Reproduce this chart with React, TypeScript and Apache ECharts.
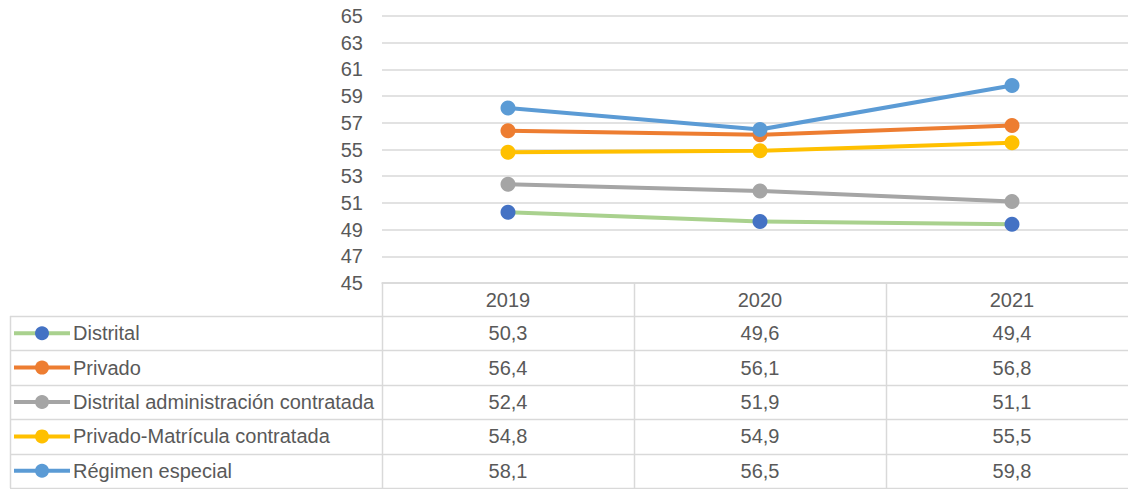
import React, { useEffect, useRef } from "react";
import * as echarts from "echarts";

const years = ["2019", "2020", "2021"];
const seriesNames = [
  "Distrital",
  "Privado",
  "Distrital administración contratada",
  "Privado-Matrícula contratada",
  "Régimen especial",
];
const distrital = [50.3, 49.6, 49.4];
const privado = [56.4, 56.1, 56.8];
const distritalAdmin = [52.4, 51.9, 51.1];
const privadoMatricula = [54.8, 54.9, 55.5];
const regimenEspecial = [58.1, 56.5, 59.8];
const lineColors = ["#A9D18E", "#ED7D31", "#A5A5A5", "#FFC000", "#5B9BD5"];
const markerColors = ["#4472C4", "#ED7D31", "#A5A5A5", "#FFC000", "#5B9BD5"];

const FONT = "'Liberation Sans', Arial, sans-serif";
const FS = 20;
const TXT = "#595959";
const GRIDC = "#D9D9D9";

export default function App() {
  const ref = useRef<HTMLDivElement>(null);
  useEffect(() => {
    if (!ref.current) return;
    const chart = echarts.init(ref.current, null, { renderer: "svg" });
    const values = [distrital, privado, distritalAdmin, privadoMatricula, regimenEspecial];
    const gridLeft = 382;
    const gridTop = 16;
    const gridW = 756;
    const gridH = 267;
    const catW = gridW / years.length;
    const axisY = gridTop + gridH;
    const rowH = 34.4;
    const headerBottom = 316;
    const tableLeft = 10;
    const tableRight = 1140;
    const tableBottom = headerBottom + rowH * seriesNames.length;

    const g: any[] = [];
    for (let i = 0; i <= seriesNames.length; i++) {
      const y = Math.round(headerBottom + i * rowH) + 0.5;
      g.push({
        type: "line",
        shape: { x1: tableLeft, y1: y, x2: tableRight, y2: y },
        style: { stroke: GRIDC, lineWidth: 1.5 },
      });
    }
    g.push({
      type: "line",
      shape: { x1: tableLeft + 0.5, y1: headerBottom, x2: tableLeft + 0.5, y2: tableBottom },
      style: { stroke: GRIDC, lineWidth: 1.5 },
    });
    for (let i = 0; i < years.length; i++) {
      const x = Math.round(gridLeft + i * catW) + 0.5;
      g.push({
        type: "line",
        shape: { x1: x, y1: axisY, x2: x, y2: tableBottom },
        style: { stroke: GRIDC, lineWidth: 1.5 },
      });
    }
    seriesNames.forEach((name, r) => {
      const cy = headerBottom + (r + 0.5) * rowH;
      g.push({
        type: "line",
        shape: { x1: 14, y1: cy, x2: 70, y2: cy },
        style: { stroke: lineColors[r], lineWidth: 4 },
      });
      g.push({
        type: "circle",
        shape: { cx: 42, cy, r: 7 },
        style: { fill: markerColors[r] },
      });
      g.push({
        type: "text",
        x: 73,
        y: cy,
        style: {
          text: name,
          fill: TXT,
          font: `${FS}px ${FONT}`,
          textVerticalAlign: "middle",
          textAlign: "left",
        },
      });
      values[r].forEach((v, c) => {
        g.push({
          type: "text",
          x: gridLeft + (c + 0.5) * catW,
          y: cy,
          style: {
            text: v.toFixed(1).replace(".", ","),
            fill: TXT,
            font: `${FS}px ${FONT}`,
            textVerticalAlign: "middle",
            textAlign: "center",
          },
        });
      });
    });

    chart.setOption({
      animation: false,
      grid: { left: gridLeft, top: gridTop, width: gridW, height: gridH },
      xAxis: {
        type: "category",
        data: years,
        boundaryGap: true,
        axisLine: { show: true, lineStyle: { color: GRIDC, width: 1.5 } },
        axisTick: { show: false },
        axisLabel: { color: TXT, fontSize: FS, fontFamily: FONT, margin: 7 },
      },
      yAxis: {
        type: "value",
        min: 45,
        max: 65,
        interval: 2,
        axisLine: { show: false },
        axisTick: { show: false },
        axisLabel: { color: TXT, fontSize: FS, fontFamily: FONT, margin: 19 },
        splitLine: { lineStyle: { color: GRIDC, width: 1.5 } },
      },
      series: seriesNames.map((name, i) => ({
        name,
        type: "line",
        data: values[i],
        symbol: "circle",
        symbolSize: 15,
        lineStyle: { color: lineColors[i], width: 4 },
        itemStyle: { color: markerColors[i] },
        z: 3,
      })),
      graphic: g,
    });
    return () => chart.dispose();
  }, []);
  return (
    <div
      ref={ref}
      style={{ position: "fixed", left: 0, top: 0, width: 1140, height: 489, background: "#fff" }}
    />
  );
}
